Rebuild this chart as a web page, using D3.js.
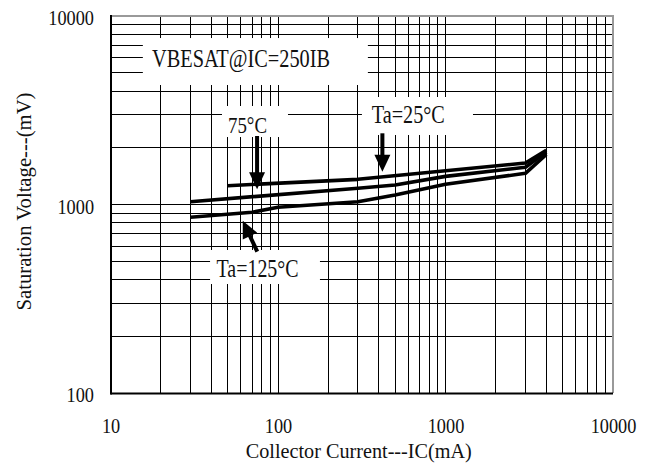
<!DOCTYPE html>
<html>
<head>
<meta charset="utf-8">
<script src="https://cdn.jsdelivr.net/npm/d3@7"></script>
<style>
  html, body { margin: 0; padding: 0; background: #fff; }
  svg { display: block; }
</style>
</head>
<body>
<div id="chart"></div>
<script>
// VBE(sat) vs collector current, IC = 250 IB, three ambient temperatures
const IC_25C  = [50, 300, 3000, 4000];
const VBE_25C = [1258, 1360, 1660, 1938];

const IC_75C  = [30, 300, 500, 1000, 3000, 4000];
const VBE_75C = [1035, 1220, 1270, 1410, 1575, 1899];

const IC_125C  = [30, 70, 100, 300, 500, 1000, 3000, 4000];
const VBE_125C = [855, 909, 967, 1035, 1123, 1280, 1464, 1842];

const xTicks = [10, 100, 1000, 10000];
const yTicks = [100, 1000, 10000];

const xTitle = "Collector Current---IC(mA)";
const yTitle = "Saturation Voltage---(mV)";

(function draw() {
  const W = 651, H = 464;
  const pL = 110.5, pR = 613, pT = 16, pB = 393;
  const FONT = "'Liberation Serif', 'Times New Roman', serif";

  const x = d3.scaleLog().domain([10, 10000]).range([pL, pR]);
  const y = d3.scaleLog().domain([100, 10000]).range([pB, pT]);

  const svg = d3.select("#chart").append("svg")
    .attr("width", W).attr("height", H)
    .style("background", "#fff");

  // grid at every 1..9 step in each decade
  const xGrid = [], yGrid = [];
  [10, 100, 1000].forEach(d => { for (let k = 2; k <= 9; k++) xGrid.push(d * k); });
  xGrid.push(100, 1000);
  [100, 1000].forEach(d => { for (let k = 2; k <= 9; k++) yGrid.push(d * k); });
  yGrid.push(1000);

  const crisp = v => Math.round(v - 0.5) + 0.5;

  const grid = svg.append("g").attr("stroke", "#000").attr("stroke-width", 1);
  grid.selectAll("line.vx").data(xGrid).join("line").attr("class", "vx")
    .attr("x1", d => crisp(x(d))).attr("x2", d => crisp(x(d)))
    .attr("y1", pT).attr("y2", pB);
  grid.selectAll("line.hy").data(yGrid).join("line").attr("class", "hy")
    .attr("y1", d => crisp(y(d))).attr("y2", d => crisp(y(d)))
    .attr("x1", pL).attr("x2", pR);

  // white panels behind the annotation texts (grid is interrupted there)
  const panels = [
    { x0: 15.6, x1: 344,   y0: 4305,  y1: 7640 },
    { x0: 46.3, x1: 114.7, y0: 2280,  y1: 3331 },
    { x0: 317,  x1: 1459,  y0: 2337,  y1: 3718 },
    { x0: 39.3, x1: 178,   y0: 378.6, y1: 573.7 }
  ];
  svg.append("g").selectAll("rect").data(panels).join("rect")
    .attr("x", d => x(d.x0)).attr("width", d => x(d.x1) - x(d.x0))
    .attr("y", d => y(d.y1)).attr("height", d => y(d.y0) - y(d.y1))
    .attr("fill", "#fff");

  // plot frame
  const frame = svg.append("g").attr("fill", "none");
  frame.append("line").attr("x1", pL).attr("x2", pR).attr("y1", pT).attr("y2", pT)
    .attr("stroke", "#999").attr("stroke-width", 2);
  frame.append("line").attr("x1", pR).attr("x2", pR).attr("y1", pT - 1).attr("y2", pB)
    .attr("stroke", "#999").attr("stroke-width", 2);
  frame.append("line").attr("x1", pL + 0.5).attr("x2", pL + 0.5).attr("y1", pT - 1).attr("y2", pB + 1.5)
    .attr("stroke", "#000").attr("stroke-width", 2);
  frame.append("line").attr("x1", pL).attr("x2", pR).attr("y1", pB + 0.5).attr("y2", pB + 0.5)
    .attr("stroke", "#000").attr("stroke-width", 2);

  // curves
  const series = [
    { ic: IC_25C, v: VBE_25C },
    { ic: IC_75C, v: VBE_75C },
    { ic: IC_125C, v: VBE_125C }
  ];
  const line = d3.line().x(d => x(d[0])).y(d => y(d[1]));
  svg.append("g").selectAll("path").data(series).join("path")
    .attr("d", s => line(s.ic.map((c, i) => [c, s.v[i]])))
    .attr("fill", "none").attr("stroke", "#000")
    .attr("stroke-width", 3.6).attr("stroke-linejoin", "round").attr("stroke-linecap", "butt");

  // pointer arrows (tail -> tip, in data units)
  const arrows = [
    { from: [75, 2309], to: [75, 1204] },
    { from: [420, 2386], to: [420, 1493] },
    { from: [75.2, 562], to: [61.6, 820] }
  ];
  const ag = svg.append("g");
  arrows.forEach(a => {
    const x0 = x(a.from[0]), y0 = y(a.from[1]);
    const x1 = x(a.to[0]), y1 = y(a.to[1]);
    const dx = x1 - x0, dy = y1 - y0, len = Math.hypot(dx, dy);
    const ux = dx / len, uy = dy / len;
    const headL = 17, headW = 8;
    const bx = x1 - ux * headL, by = y1 - uy * headL;
    ag.append("line").attr("x1", x0).attr("y1", y0).attr("x2", bx + ux).attr("y2", by + uy)
      .attr("stroke", "#000").attr("stroke-width", 4);
    ag.append("path")
      .attr("d", `M${x1},${y1}L${bx - uy * headW},${by + ux * headW}L${bx + uy * headW},${by - ux * headW}Z`)
      .attr("fill", "#000");
  });

  // annotation texts (left edge / baseline in data units)
  const notes = [
    { text: "VBESAT@IC=250IB", ic: 17.7, mv: 5383, size: 25, len: 178 },
    { text: "75°C", ic: 50.3, mv: 2395, size: 23, len: 39 },
    { text: "Ta=25°C", ic: 363, mv: 2690, size: 25, len: 73 },
    { text: "Ta=125°C", ic: 43, mv: 412.6, size: 25, len: 82 }
  ];
  svg.append("g").selectAll("text").data(notes).join("text")
    .attr("x", d => x(d.ic)).attr("y", d => y(d.mv))
    .attr("font-family", FONT).attr("font-size", d => d.size)
    .attr("textLength", d => d.len).attr("lengthAdjust", "spacingAndGlyphs")
    .attr("fill", "#111")
    .text(d => d.text);

  // axes (tick labels only; grid drawn above)
  const sx = 0.87;
  const yAxisG = svg.append("g").attr("transform", `translate(${pL},0)`)
    .call(d3.axisLeft(y).tickValues(yTicks).tickFormat(d3.format("d")).tickSize(0).tickPadding(0));
  yAxisG.select(".domain").remove();
  yAxisG.attr("font-family", FONT).attr("font-size", 21);
  yAxisG.selectAll("text")
    .attr("transform", `scale(${sx},1)`)
    .attr("x", -16.5 / sx).attr("y", 2).attr("dy", "0.32em").attr("fill", "#111");

  const xAxisG = svg.append("g").attr("transform", `translate(0,${pB})`)
    .call(d3.axisBottom(x).tickValues(xTicks).tickFormat(d3.format("d")).tickSize(0).tickPadding(0));
  xAxisG.select(".domain").remove();
  xAxisG.attr("font-family", FONT).attr("font-size", 21);
  xAxisG.selectAll("text")
    .attr("transform", `scale(${sx},1)`)
    .attr("x", 0).attr("y", 40).attr("dy", 0).attr("fill", "#111");

  // axis titles
  svg.append("text")
    .attr("x", (pL + pR) / 2 - 3).attr("y", 458)
    .attr("text-anchor", "middle")
    .attr("font-family", FONT).attr("font-size", 22)
    .attr("textLength", 226).attr("lengthAdjust", "spacingAndGlyphs")
    .attr("fill", "#111")
    .text(xTitle);

  svg.append("text")
    .attr("transform", `translate(31,${(pT + pB) / 2 - 3}) rotate(-90)`)
    .attr("text-anchor", "middle")
    .attr("font-family", FONT).attr("font-size", 22)
    .attr("textLength", 218).attr("lengthAdjust", "spacingAndGlyphs")
    .attr("fill", "#111")
    .text(yTitle);
})();
</script>
</body>
</html>
